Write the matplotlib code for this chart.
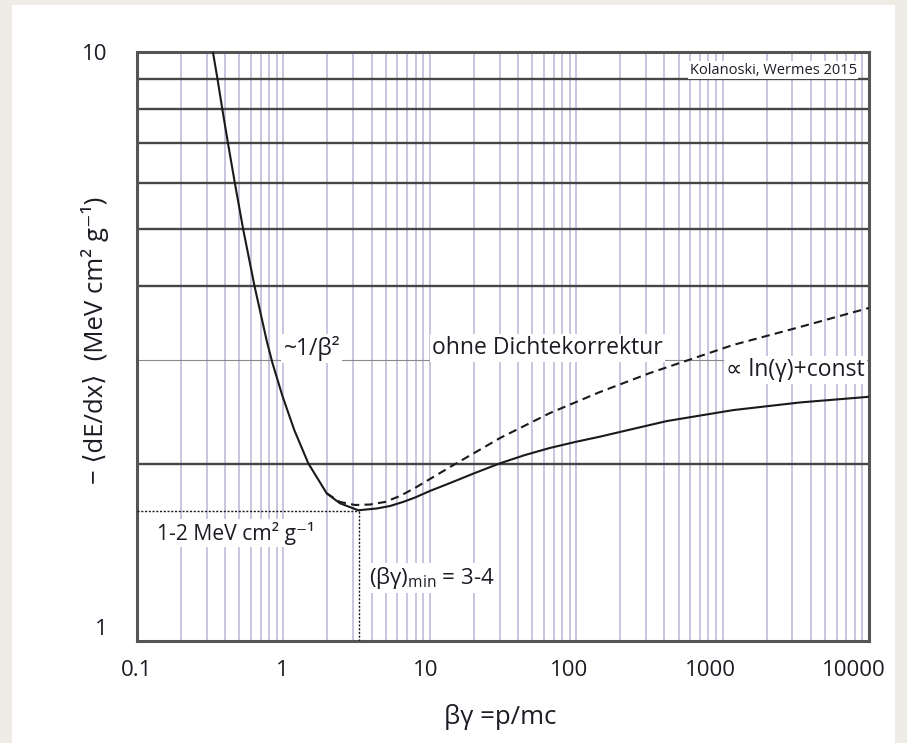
import numpy as np
import matplotlib
matplotlib.use("Agg")
import matplotlib.pyplot as plt
import matplotlib.patches as mpatches
from matplotlib.transforms import ScaledTranslation

plt.rcParams["font.family"] = ["Open Sans", "DejaVu Sans"]
plt.rcParams["mathtext.fontset"] = "custom"
plt.rcParams["mathtext.rm"] = "Open Sans"
plt.rcParams["mathtext.it"] = "Open Sans:italic"

# ── data ─────────────────────────────────────────────────────────────────────
# with density correction (solid)
bg_solid = [0.330, 0.3547, 0.3825, 0.4183, 0.4656, 0.5312, 0.6357, 0.7668,
            0.8425, 0.989, 1.187, 1.479, 1.976, 2.436, 3.249, 4.359, 5.346,
            6.56, 7.92, 10.03, 13.74, 20.36, 30.17, 44.7, 66.2, 98.2, 145.4, 244,
            417, 1178, 3380, 10000]
dedx_solid = [10.0, 9.0, 8.0, 7.0, 6.0, 5.0, 4.0, 3.244,
              2.962, 2.598, 2.281, 2.003, 1.781, 1.713, 1.667, 1.679, 1.695,
              1.722, 1.752, 1.798, 1.854, 1.929, 2.003, 2.069, 2.127, 2.177, 2.223, 2.291,
              2.363, 2.466, 2.541, 2.598]

# without density correction (dashed)
bg_dash = [1.976, 2.436, 3.085, 3.904, 4.943, 6.26, 7.92, 10.03, 13.74, 30.17,
           66.2, 145.4, 319.2, 1178, 3380, 10000]
dedx_dash = [1.781, 1.722, 1.702, 1.705, 1.722, 1.763, 1.819, 1.884, 1.974, 2.211,
             2.438, 2.647, 2.851, 3.181, 3.413, 3.677]

bg_min = 3.3
dedx_min = 1.66

xtick_vals = [0.1, 1, 10, 100, 1000, 10000]
xtick_labels = ["0.1", "1", "10", "100", "1000", "10000"]
ytick_vals = [1, 10]
ytick_labels = ["1", "10"]

TEXT = "#1c1c24"

# ── figure ───────────────────────────────────────────────────────────────────
fig = plt.figure(figsize=(9.07, 7.43), dpi=100, facecolor="#efece5")
fig.patches.append(mpatches.Rectangle((12 / 907, 0), (895 - 12) / 907, 1 - 5 / 743,
                                      transform=fig.transFigure, facecolor="white",
                                      edgecolor="none", zorder=-10))

ax = fig.add_axes([137 / 907, 1 - 641 / 743, (869 - 137) / 907, (641 - 52) / 743])
ax.set_xscale("log")
ax.set_yscale("log")
ax.set_xlim(0.1, 10000)
ax.set_ylim(1, 10)
ax.set_facecolor("white")

# grid: vertical lavender, horizontal dark
for dec in [0.1, 1, 10, 100, 1000]:
    for m in range(1, 10):
        v = dec * m
        if 0.1 < v < 10000:
            ax.axvline(v, color="#bcbcd9", lw=1.2, zorder=1)
for m in range(2, 10):
    if m == 3:
        ax.axhline(m, color="#8a8a8a", lw=0.8, zorder=1)
    else:
        ax.axhline(m, color="#464646", lw=1.7, zorder=1)

for s in ax.spines.values():
    s.set_color("#555555")
    s.set_linewidth(2.2)

# curves
ax.plot(bg_solid, dedx_solid, color="#1a1a1a", lw=1.5, zorder=5)
ax.plot(bg_dash, dedx_dash, color="#1a1a1a", lw=1.5, ls=(0, (4, 2.5)), zorder=5)

# minimum markers
ax.plot([0.1, bg_min], [dedx_min, dedx_min], color="#1a1a1a", lw=1.0,
        ls=(0, (1.5, 1.2)), zorder=4)
ax.plot([bg_min, bg_min], [1, dedx_min], color="#1a1a1a", lw=1.0,
        ls=(0, (1.5, 1.2)), zorder=4)

# ticks
ax.set_xticks(xtick_vals, labels=xtick_labels)
ax.set_yticks(ytick_vals, labels=ytick_labels)
ax.minorticks_off()
ax.tick_params(length=0, labelsize=16, colors=TEXT, pad=14)
ax.tick_params(axis="y", pad=21)

x_shift = [0, -1, -4, -7, -12, -15]
for lbl, dx in zip(ax.get_xticklabels(), x_shift):
    lbl.set_transform(lbl.get_transform() + ScaledTranslation(dx / 100, 0, fig.dpi_scale_trans))
y_shift = [14, 0]
for lbl, dy in zip(ax.get_yticklabels(), y_shift):
    lbl.set_transform(lbl.get_transform() + ScaledTranslation(0, dy / 100, fig.dpi_scale_trans))

# axis titles
ax.text((500 - 137) / 732, (641 - 717) / 589, "βγ =p/mc", transform=ax.transAxes,
        ha="center", va="center", fontsize=18.5, color=TEXT)
ax.text((95 - 137) / 732, (641 - 340) / 589, "− ⟨dE/dx⟩  (MeV cm² g⁻¹)",
        transform=ax.transAxes, rotation=90, ha="center", va="center",
        fontsize=18.5, color=TEXT)

# annotations
box = dict(facecolor="white", edgecolor="none", pad=1.5)
txt = dict(color=TEXT, zorder=6, bbox=box)
ax.text(1.0, 3.14, "~1/β²", ha="left", va="center", fontsize=16.5, **txt)
ax.text(10.4, 3.14, "ohne Dichtekorrektur", ha="left", va="center", fontsize=16.5, **txt)
ax.text(9400, 2.88, "∝ ln(γ)+const", ha="right", va="center", fontsize=16.5, **txt)
ax.text(0.137, 1.525, "1-2 MeV cm² g⁻¹", ha="left", va="center", fontsize=15.2, **txt)
ax.text(3.84, 1.279, r"(βγ)$_{\mathrm{min}}$ = 3-4", ha="left", va="center",
        fontsize=16, **txt)
ax.text((857 - 137) / 732, (641 - 70) / 589, "Kolanoski, Wermes 2015",
        transform=ax.transAxes, ha="right", va="center", fontsize=10.5, color=TEXT,
        zorder=6, bbox=dict(facecolor="white", edgecolor="none", pad=1))

fig.savefig("out.png", dpi=100, facecolor=fig.get_facecolor())
